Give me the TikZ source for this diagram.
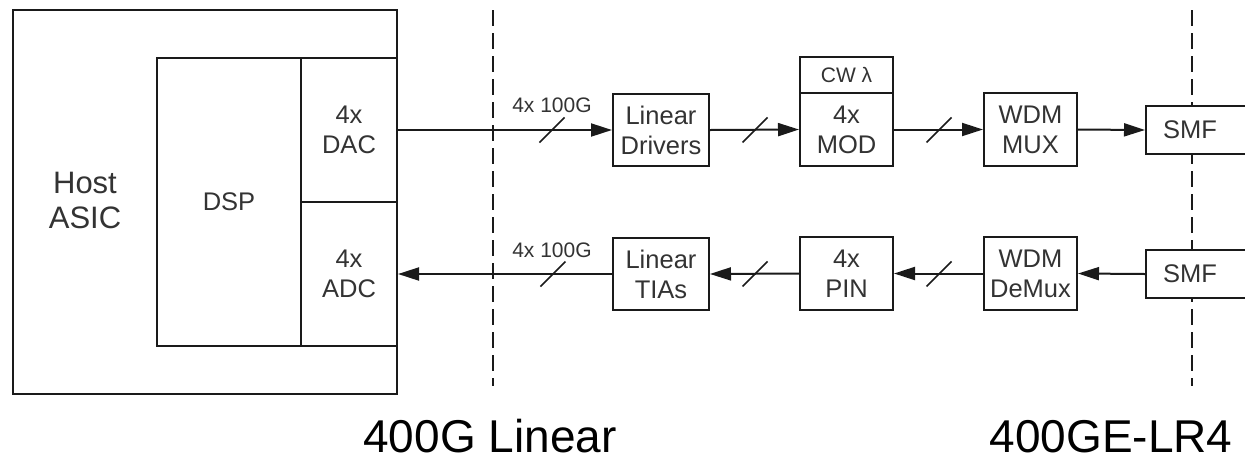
\documentclass[tikz,border=0pt]{standalone}
\usepackage{fontspec}
\setmainfont{Liberation Sans}
\usetikzlibrary{arrows.meta}
\definecolor{txt}{HTML}{333333}
\definecolor{ln}{HTML}{1A1A1A}
\tikzset{
  blk/.style={draw=ln, line width=2pt, fill=white, text=txt, inner sep=0pt, align=center,
     font=\fontsize{25.5}{30}\selectfont},
  conn/.style={draw=ln, line width=2pt, -{Triangle[length=21pt,width=13pt]}},
  slashln/.style={draw=ln, line width=1.6pt},
  divider/.style={draw=ln, line width=1.8pt, dash pattern=on 16pt off 7pt},
  small/.style={text=txt, inner sep=0pt, font=\fontsize{21}{24}\selectfont},
  big/.style={text=black, inner sep=0pt, anchor=base, font=\fontsize{46}{50}\selectfont},
}
\begin{document}
\begin{tikzpicture}[x=1pt,y=-1pt]
\useasboundingbox (0,0) rectangle (1245,459);
% dashed boundaries
\coordinate (d1t) at (493,10); \coordinate (d1b) at (493,386);
\coordinate (d2t) at (1192,10); \coordinate (d2b) at (1192,386);
\draw[divider] (d1t) -- (d1b);
\draw[divider] (d2t) -- (d2b);
% host ASIC
\node[blk, minimum width=384pt, minimum height=384pt] (host) at (205,202) {};
\node[text=txt, align=center, inner sep=0pt, font=\fontsize{31}{35}\selectfont] (hostlbl) at (85,200) {Host\\ASIC};
\node[blk, minimum width=144pt, minimum height=288pt] (dsp) at (229,202) {DSP};
\node[blk, minimum width=96pt, minimum height=144pt] (dac) at (349,130) {4x\\DAC};
\node[blk, minimum width=96pt, minimum height=144pt] (adc) at (349,274) {4x\\ADC};
% TX chain
\node[blk, minimum width=96pt, minimum height=72pt] (drv) at (661,130) {Linear\\Drivers};
\node[blk, minimum width=93pt, minimum height=73pt] (mod) at (846.5,129.5) {4x\\MOD};
\node[blk, minimum width=93pt, minimum height=36pt, font=\fontsize{21}{24}\selectfont] (cw) at (846.5,75) {CW λ};
\node[blk, minimum width=93pt, minimum height=73pt] (mux) at (1030.5,129.5) {WDM\\MUX};
\node[blk, minimum width=120pt, minimum height=48pt, text width=86pt, align=left] (smf1) at (1206,130) {SMF};
% RX chain
\node[blk, minimum width=96pt, minimum height=72pt] (tia) at (661,274) {Linear\\TIAs};
\node[blk, minimum width=93pt, minimum height=73pt] (pin) at (846.5,273.5) {4x\\PIN};
\node[blk, minimum width=93pt, minimum height=73pt] (demux) at (1030.5,273.5) {WDM\\DeMux};
\node[blk, minimum width=120pt, minimum height=48pt, text width=86pt, align=left] (smf2) at (1206,274) {SMF};
% connectors
\draw[conn] (dac.east) -- (drv.west);
\draw[conn] (drv.east) -- (mod.west);
\draw[conn] (mod.east) -- (mux.west);
\draw[conn] (mux.east) -- (smf1.west);
\draw[conn] (smf2.west) -- (demux.east);
\draw[conn] (demux.west) -- (pin.east);
\draw[conn] (pin.west) -- (tia.east);
\draw[conn] (tia.west) -- (adc.east);
% bus slashes
\foreach \x/\y in {552/130, 755/130, 939/130, 553/274, 755/274, 939/274}
  \draw[slashln] (\x,\y) +(-12.5,12.5) -- +(12.5,-12.5);
% labels
\node[small] (lbl1) at (552,105) {4x 100G};
\node[small] (lbl2) at (552,250) {4x 100G};
\node[big] (t1) at (490,452) {400G Linear};
\node[big] (t2) at (1111,452) {400GE-LR4};
\end{tikzpicture}
\end{document}
